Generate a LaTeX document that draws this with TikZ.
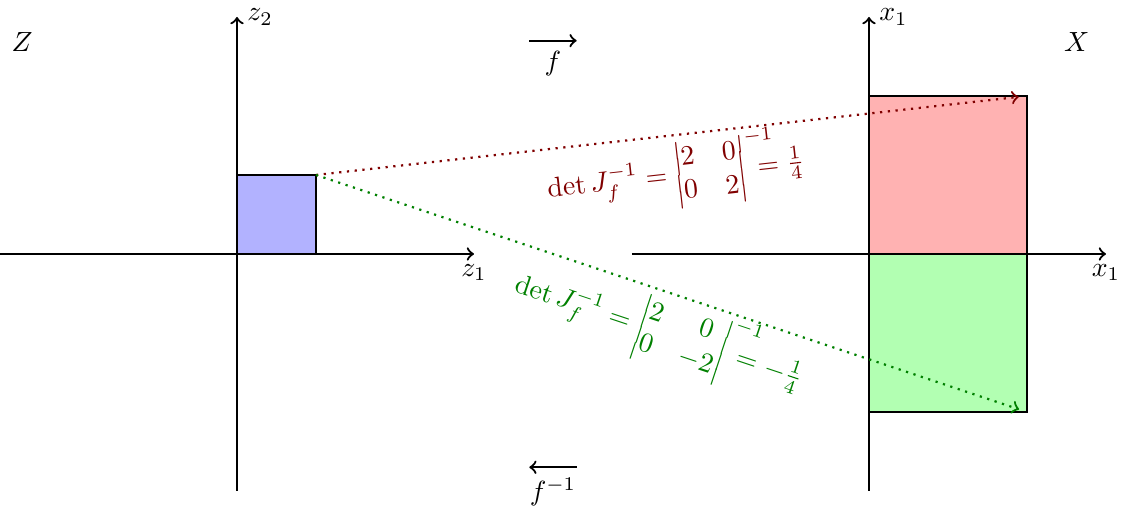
\documentclass[tikz,border=0pt]{standalone}
\usepackage{amsmath}
\begin{document}
\begin{tikzpicture}[
  axis/.style={thick,->},
  region/.style={draw=black,thick,inner sep=0pt,outer sep=0pt},
  mapline/.style={thick,dotted,->,shorten >=3pt},
  detlabel/.style={midway,sloped,below=-3pt}
]
\useasboundingbox (-3,-3.291) rectangle (11.266,3.215);
% regions
\node[region,fill=blue!30,minimum width=1cm,minimum height=1cm,anchor=south west] (zsq) at (0,0) {};
\node[region,fill=red!30,minimum width=2cm,minimum height=2cm,anchor=south west] (xup) at (8,0) {};
\node[region,fill=green!30,minimum width=2cm,minimum height=2cm,anchor=north west] (xdn) at (8,0) {};
% axes
\coordinate (zl) at (-3,0); \coordinate (zr) at (3,0);
\coordinate (zb) at (0,-3); \coordinate (zt) at (0,3);
\coordinate (xl) at (5,0); \coordinate (xr) at (11,0);
\coordinate (xb) at (8,-3); \coordinate (xt) at (8,3);
\draw[axis] (zl) -- (zr) node[below] (z1lab) {$z_1$};
\draw[axis] (zb) -- (zt) node[right] (z2lab) {$z_2$};
\draw[axis] (xl) -- (xr) node[below] (x1lab) {$x_1$};
\draw[axis] (xb) -- (xt) node[right] (x2lab) {$x_1$};
% space names
\node (Z) at (-2.72,2.68) {$Z$};
\node (X) at (10.63,2.68) {$X$};
% f arrows
\coordinate (fa) at (3.7,2.7); \coordinate (fb) at (4.3,2.7);
\draw[thick,->] (fa) -- (fb) node[midway,below] (flab) {$f$};
\coordinate (ga) at (4.3,-2.7); \coordinate (gb) at (3.7,-2.7);
\draw[thick,->] (ga) -- (gb) node[midway,below] (ginvlab) {$f^{-1}$};
% mappings
\draw[mapline,red!50!black] (zsq.north east) -- (xup.north east)
  node[detlabel] (redlab) {$\det J_f^{-1} = \left|\mkern-1mu\begin{array}{@{}cc@{}}2&0\\0&2\end{array}\right|^{\rlap{$\scriptstyle -1$}}\mkern1mu = \frac{1}{4}$};
\draw[mapline,green!50!black] (zsq.north east) -- (xdn.south east)
  node[detlabel] (greenlab) {$\det J_f^{-1} = \left|\mkern-1mu\begin{array}{@{}cc@{}}2&0\\0&-2\end{array}\right|^{\rlap{$\scriptstyle -1$}}\mkern1mu = -\frac{1}{4}$};
\end{tikzpicture}
\end{document}
